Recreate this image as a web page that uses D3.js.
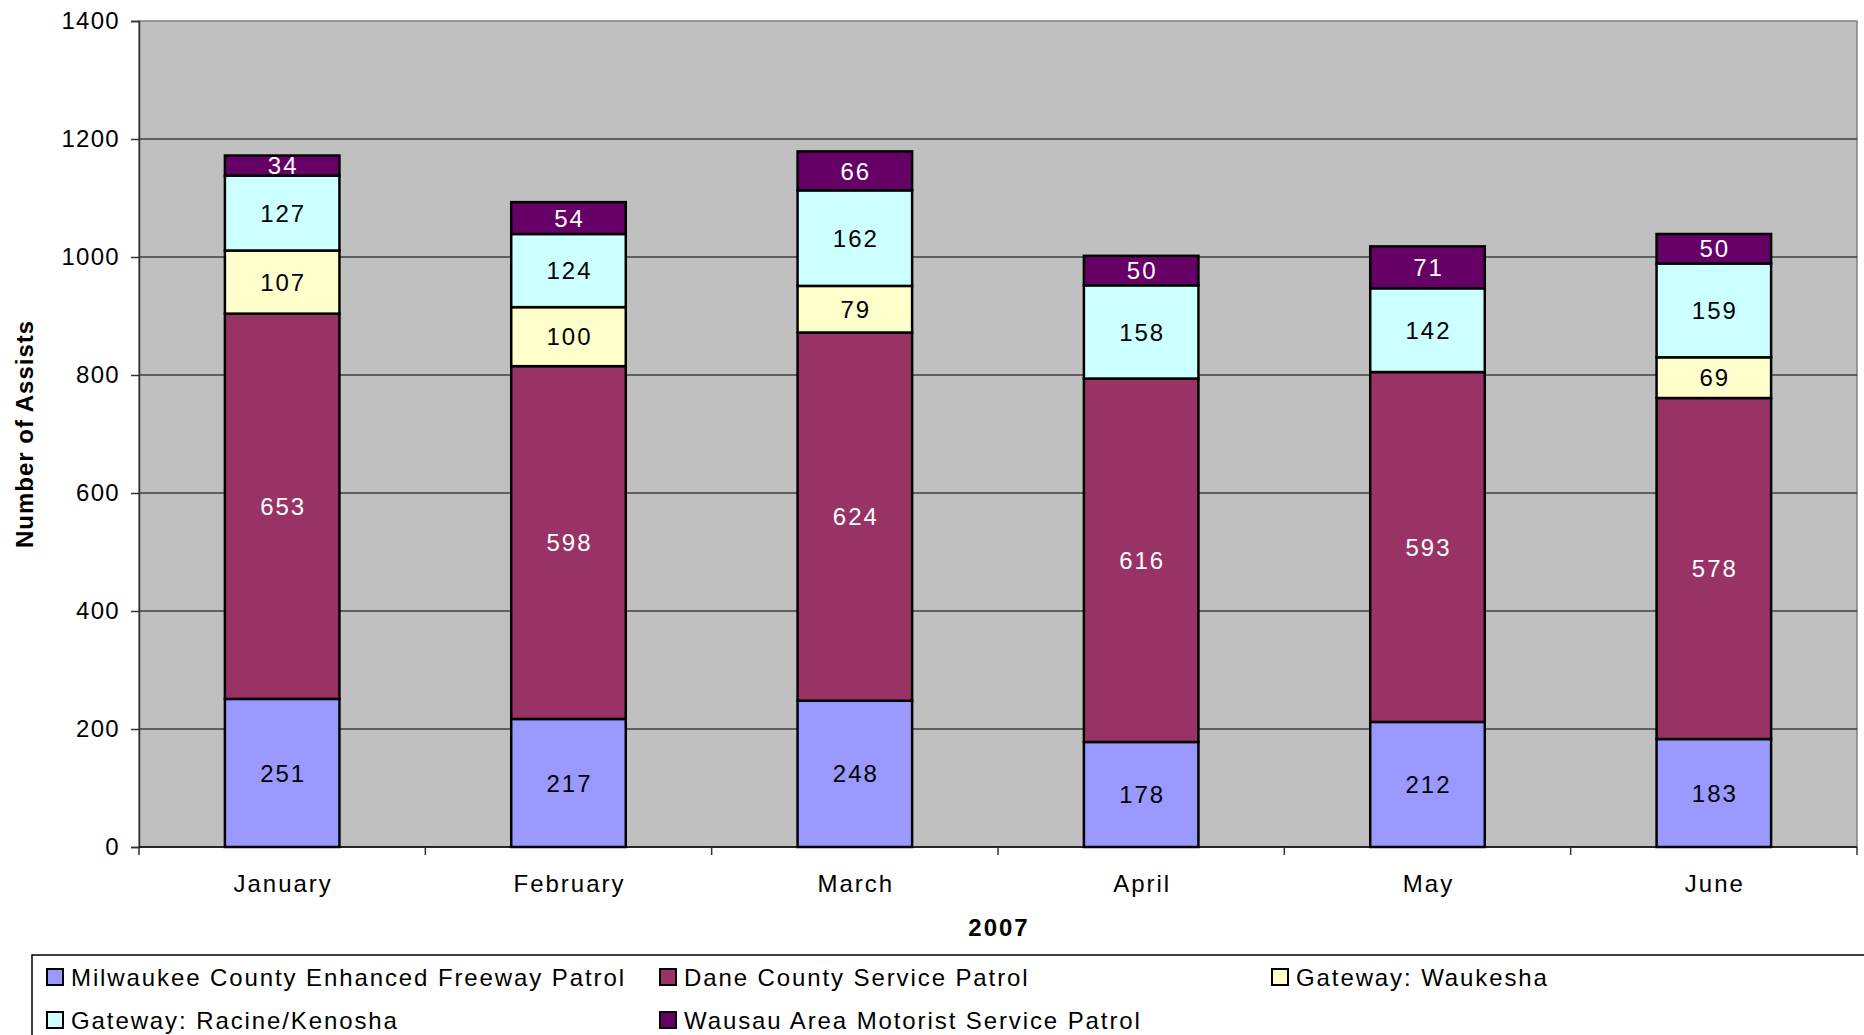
<!DOCTYPE html>
<html>
<head>
<meta charset="utf-8">
<script src="https://cdn.jsdelivr.net/npm/d3@7"></script>
<style>
  body { margin: 0; background: #fff; }
  text { font-family: "Liberation Sans", Arial, sans-serif; }
</style>
</head>
<body>
<script>
width = 1864;
height = 1035;

// values
months = ["January", "February", "March", "April", "May", "June"];
series = ["Milwaukee County Enhanced Freeway Patrol", "Dane County Service Patrol",
          "Gateway: Waukesha", "Gateway: Racine/Kenosha", "Wausau Area Motorist Service Patrol"];
milwaukee = [251, 217, 248, 178, 212, 183];
dane = [653, 598, 624, 616, 593, 578];
waukesha = [107, 100, 79, 0, 0, 69];
racine = [127, 124, 162, 158, 142, 159];
wausau = [34, 54, 66, 50, 71, 50];
colors = ["#9999FF", "#993366", "#FFFFCC", "#CCFFFF", "#660066"];
labelColors = ["#000", "#fff", "#000", "#000", "#fff"];
yTicks = [0, 200, 400, 600, 800, 1000, 1200, 1400];

cols = [milwaukee, dane, waukesha, racine, wausau];
rows = months.map(function(m, i) {
  var r = {month: m};
  series.forEach(function(s, j) { r[s] = cols[j][i]; });
  return r;
});

plot = {left: 139, right: 1857, top: 21, bottom: 847};

svg = d3.select("body").append("svg")
  .attr("width", width)
  .attr("height", height);

svg.append("rect")
  .attr("width", width).attr("height", height).attr("fill", "#fff");

x = d3.scaleBand().domain(months).range([plot.left, plot.right]).paddingInner(0.6).paddingOuter(0.3);
xOuter = d3.scaleBand().domain(months).range([plot.left, plot.right]);
y = d3.scaleLinear().domain([0, 1400]).range([plot.bottom, plot.top]);

// plot area
svg.append("rect")
  .attr("x", plot.left).attr("y", plot.top)
  .attr("width", plot.right - plot.left).attr("height", plot.bottom - plot.top)
  .attr("fill", "#C0C0C0").attr("stroke", "#808080").attr("stroke-width", 1.5);

// gridlines
svg.append("g").selectAll("line")
  .data(yTicks.filter(function(d) { return d > 0 && d < 1400; }))
  .join("line")
  .attr("x1", plot.left).attr("x2", plot.right)
  .attr("y1", function(d) { return y(d); }).attr("y2", function(d) { return y(d); })
  .attr("stroke", "#000").attr("stroke-width", 1);

// stacked bars
stack = d3.stack().keys(series)(rows);
layers = svg.append("g").selectAll("g")
  .data(stack)
  .join("g")
  .attr("fill", function(d, i) { return colors[i]; });

layers.selectAll("rect")
  .data(function(d) { return d.filter(function(p) { return p[1] - p[0] > 0; }); })
  .join("rect")
  .attr("x", function(d) { return x(d.data.month); })
  .attr("width", x.bandwidth())
  .attr("y", function(d) { return y(d[1]); })
  .attr("height", function(d) { return y(d[0]) - y(d[1]); })
  .attr("stroke", "#000").attr("stroke-width", 2.5);

layers.each(function(layer, i) {
  d3.select(this).selectAll("text")
    .data(layer.filter(function(p) { return p[1] - p[0] > 0; }))
    .join("text")
    .attr("x", function(d) { return x(d.data.month) + x.bandwidth() / 2 + 1; })
    .attr("y", function(d) { return (y(d[0]) + y(d[1])) / 2; })
    .attr("dy", "0.36em")
    .attr("text-anchor", "middle")
    .attr("font-size", 24)
    .attr("letter-spacing", 2)
    .attr("fill", labelColors[i])
    .text(function(d) { return d[1] - d[0]; });
});

// y axis
yAxis = svg.append("g")
  .attr("transform", "translate(" + plot.left + ",0)")
  .call(d3.axisLeft(y).tickValues(yTicks).tickSize(8).tickPadding(11).tickFormat(d3.format("d")));
yAxis.select(".domain").attr("stroke", "#333").attr("stroke-width", 1.5);
yAxis.selectAll("line").attr("stroke", "#333").attr("stroke-width", 1.5);
yAxis.selectAll("text").attr("font-size", 24).attr("fill", "#000")
  .attr("letter-spacing", 1.3)
  .attr("font-family", "'Liberation Sans', Arial, sans-serif");

// x axis: ticks on category boundaries
xAxis = svg.append("g")
  .attr("transform", "translate(0," + plot.bottom + ")");
xAxis.append("line")
  .attr("x1", plot.left).attr("x2", plot.right)
  .attr("stroke", "#000").attr("stroke-width", 1.5);
xAxis.selectAll("line.tick")
  .data(months.concat(["end"]))
  .join("line")
  .attr("class", "tick")
  .attr("x1", function(d, i) { return i < months.length ? xOuter(d) : plot.right; })
  .attr("x2", function(d, i) { return i < months.length ? xOuter(d) : plot.right; })
  .attr("y1", 0).attr("y2", 8)
  .attr("stroke", "#333").attr("stroke-width", 1.5);
xAxis.selectAll("text")
  .data(months)
  .join("text")
  .attr("x", function(d) { return x(d) + x.bandwidth() / 2 + 1; })
  .attr("y", 36)
  .attr("dy", "0.36em")
  .attr("text-anchor", "middle")
  .attr("font-size", 24)
  .attr("letter-spacing", 2)
  .text(function(d) { return d; });

// axis titles
svg.append("text")
  .attr("x", (plot.left + plot.right) / 2 + 1).attr("y", 927)
  .attr("dy", "0.36em")
  .attr("text-anchor", "middle")
  .attr("font-size", 24).attr("font-weight", "bold")
  .attr("letter-spacing", 2)
  .text("2007");

svg.append("text")
  .attr("transform", "translate(24," + (plot.top + plot.bottom) / 2 + ") rotate(-90)")
  .attr("dy", "0.36em")
  .attr("text-anchor", "middle")
  .attr("font-size", 24).attr("font-weight", "bold")
  .attr("letter-spacing", 1)
  .text("Number of Assists");

// legend
svg.append("rect")
  .attr("x", 32).attr("y", 955).attr("width", 1900).attr("height", 200)
  .attr("fill", "#fff").attr("stroke", "#000").attr("stroke-width", 1.5);

legendX = [47, 660, 1272];
legendY = [977, 1020];
legend = svg.append("g").selectAll("g")
  .data(series)
  .join("g")
  .attr("transform", function(d, i) {
    return "translate(" + legendX[i % 3] + "," + legendY[Math.floor(i / 3)] + ")";
  });
legend.append("rect")
  .attr("x", 0).attr("y", -8).attr("width", 16).attr("height", 16)
  .attr("fill", function(d, i) { return colors[i]; })
  .attr("stroke", "#000").attr("stroke-width", 2);
legend.append("text")
  .attr("x", 24).attr("dy", "0.36em")
  .attr("font-size", 24)
  .attr("letter-spacing", 1.9)
  .text(function(d) { return d; });
</script>
</body>
</html>
